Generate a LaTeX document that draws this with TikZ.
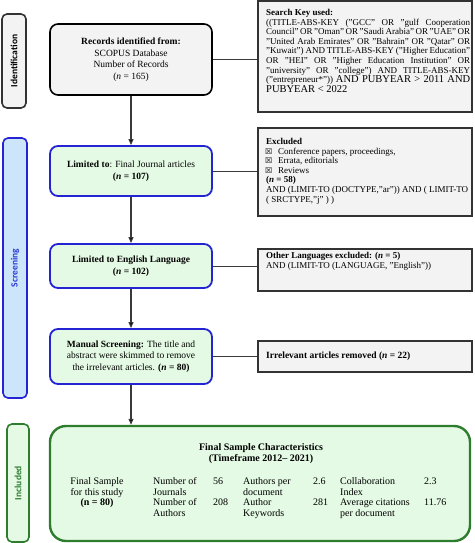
\documentclass[tikz,border=0pt]{standalone}
\usepackage{fontspec}
\setmainfont{Liberation Serif}
\setsansfont{Carlito}
\newfontfamily\symfont{DejaVu Sans}
\usetikzlibrary{arrows.meta,calc}
\definecolor{grayfill}{HTML}{F3F3F3}
\definecolor{grayline}{HTML}{333333}
\definecolor{bluefill}{HTML}{CCE5FA}
\definecolor{blueline}{HTML}{2424D4}
\definecolor{bluetext}{HTML}{2B3BD6}
\definecolor{greenfill}{HTML}{E4FAE4}
\definecolor{greenline}{HTML}{2E7D2E}
\definecolor{greentext}{HTML}{2E7D32}
\definecolor{conn}{HTML}{3A3A3A}
\begin{document}
\begin{tikzpicture}[x=1pt,y=-1pt,
  mainfont/.style={font=\fontsize{9.5}{11.5}\selectfont},
  sidebox/.style={draw, rounded corners=5pt, line width=1.6pt, inner sep=0pt,
    minimum width=#1},
  recbox/.style={draw=black, fill=grayfill, rounded corners=8pt, line width=1.6pt,
    minimum width=162pt, align=center, mainfont, inner sep=2pt},
  limbox/.style={draw=blueline, fill=greenfill, rounded corners=8pt, line width=1.8pt,
    minimum width=162pt, align=center, mainfont, inner sep=2pt},
  rbox/.style={draw=grayline, fill=grayfill, line width=1.5pt, minimum width=214pt,
    inner sep=0pt},
  rtext/.style={anchor=north west, inner sep=0pt, font=\fontsize{9}{9.6}\selectfont, align=left},
  cell/.style={anchor=base west, inner sep=0pt, font=\fontsize{10}{10.5}\selectfont},
  ccell/.style={anchor=base, inner sep=0pt, font=\fontsize{10}{10.5}\selectfont},
  arr/.style={draw=conn, line width=1.1pt, -{Triangle[length=6pt,width=5pt,fill=black]}},
  link/.style={draw=conn, line width=0.8pt},
  chk/.style={}
]
\useasboundingbox (0,0) rectangle (474,543);

% side labels
\node[sidebox=24pt, draw=grayline, fill=grayfill, minimum height=94pt] (ident) at (14,61) {};
\node[rotate=90, font=\sffamily\bfseries\fontsize{9.5}{10}\selectfont] (identt) at (ident.center) {Identification};
\node[sidebox=24pt, draw=blueline, fill=bluefill, minimum height=260pt] (screen) at (15,268) {};
\node[rotate=90, font=\sffamily\bfseries\fontsize{9.5}{10}\selectfont, text=bluetext] (screent) at (15,268) {Screening};
\node[sidebox=22pt, draw=greenline, fill=greenfill, minimum height=118pt] (incl) at (18,483) {};
\node[rotate=90, font=\sffamily\bfseries\fontsize{9.5}{10}\selectfont, text=greentext] (inclt) at (18,483) {Included};

% main column
\node[recbox, minimum height=71pt] (rec) at (131,59.5)
  {\textbf{Records identified from:}\\SCOPUS Database\\Number of Records\\(\textit{n} = 165)};
\node[limbox, minimum height=50pt] (lim1) at (131,171)
  {\textbf{Limited to}: Final Journal articles\\\textbf{(\textit{n} = 107)}};
\node[limbox, minimum height=44pt] (lim2) at (131,266)
  {\textbf{Limited to English Language}\\\textbf{(\textit{n} = 102)}};
\node[limbox, minimum height=55pt] (man) at (131,356.5)
  {\textbf{Manual Screening:} The title and\\abstract were skimmed to remove\\the irrelevant articles. \textbf{(\textit{n} = 80)}};
\node[draw=greenline, fill=greenfill, rounded corners=16pt, line width=2.4pt,
  minimum width=420pt, minimum height=115pt, inner sep=0pt] (fin) at (260,483.5) {};

% right column boxes
\node[rbox, minimum height=111pt] (search) at (365,56.5) {};
\node[rtext, text width=204pt, align=justify] (searcht) at (266,9)
  {\textbf{Search Key used:}\\
  ((TITLE-ABS-KEY ("GCC" OR "gulf Cooperation\linebreak
  Council" OR "Oman" OR "Saudi Arabia" OR "UAE" OR\linebreak
  "United Arab Emirates" OR "Bahrain" OR "Qatar" OR\linebreak
  "Kuwait") AND TITLE-ABS-KEY ("Higher Education"\linebreak
  OR "HEI" OR "Higher Education Institution" OR\linebreak
  "university" OR "college") AND TITLE-ABS-KEY\linebreak
  ("entrepreneur*")) {\fontsize{10.5}{9.6}\selectfont AND PUBYEAR > 2011 AND}\linebreak
  {\fontsize{10.5}{9.6}\selectfont PUBYEAR < 2022}};

\node[rbox, minimum height=88pt] (excl) at (365,172) {};
\node[rtext] (exclt) at (266,138)
  {\textbf{Excluded}\\
  \makebox[12pt][l]{\hspace{-1pt}{\symfont\fontsize{8}{8}\selectfont ☒}}Conference papers, proceedings,\\
  \makebox[12pt][l]{\hspace{-1pt}{\symfont\fontsize{8}{8}\selectfont ☒}}Errata, editorials\\
  \makebox[12pt][l]{\hspace{-1pt}{\symfont\fontsize{8}{8}\selectfont ☒}}Reviews\\
  \textbf{(\textit{n} = 58)}\\
  AND (LIMIT-TO (DOCTYPE,"ar")) AND ( LIMIT-TO\\
  ( SRCTYPE,"j" ) )};

\node[rbox, minimum height=42pt] (oth) at (365,270) {};
\node[rtext] (otht) at (266,252)
  {\textbf{Other Languages excluded: (\textit{n} = 5)}\\
  AND (LIMIT-TO (LANGUAGE, "English"))};

\node[rbox, minimum height=31pt] (irr) at (365,356.5) {};
\node[anchor=west, inner sep=0pt, font=\fontsize{9.5}{9.6}\selectfont] (irrt) at (266,356)
  {\textbf{Irrelevant articles removed (\textit{n} = 22)}};

% connectors
\draw[arr] (rec.south) -- (lim1.north);
\draw[arr] (lim1.south) -- (lim2.north);
\draw[arr] (lim2.south) -- (man.north);
\draw[arr] (man.south) -- (man.south |- fin.north);
\draw[link] (rec.east) -- (rec.east -| search.west);
\draw[link] (lim1.east) -- (lim1.east -| excl.west);
\draw[link] (lim2.east) -- (lim2.east -| oth.west);
\draw[link] (man.east) -- (man.east -| irr.west);

% final box contents
\node[ccell, font=\bfseries\fontsize{10}{10.5}\selectfont] (t1) at (261,450.5) {Final Sample Characteristics};
\node[ccell, font=\bfseries\fontsize{10}{10.5}\selectfont] (t2) at (261,461.5) {(Timeframe 2012-- 2021)};

\node[ccell] (a1) at (97,484.5) {Final Sample};
\node[ccell] (a2) at (97,495) {for this study};
\node[ccell] (a3) at (97,505.5) {\textbf{(n = 80)}};

\node[cell] (b1) at (153,484.5) {Number of};
\node[cell] (b2) at (153,495) {Journals};
\node[cell] (b3) at (153,505.5) {Number of};
\node[cell] (b4) at (153,516) {Authors};
\node[cell] (c1) at (213,484.5) {56};
\node[cell] (c3) at (213,505.5) {208};

\node[cell] (d1) at (243,484.5) {Authors per};
\node[cell] (d2) at (243,495) {document};
\node[cell] (d3) at (243,505.5) {Author};
\node[cell] (d4) at (243,516) {Keywords};
\node[cell] (e1) at (313,484.5) {2.6};
\node[cell] (e3) at (313,505.5) {281};

\node[cell] (f1) at (340,484.5) {Collaboration};
\node[cell] (f2) at (340,495) {Index};
\node[cell] (f3) at (340,505.5) {Average citations};
\node[cell] (f4) at (340,516) {per document};
\node[cell] (g1) at (424,484.5) {2.3};
\node[cell] (g3) at (424,505.5) {11.76};
\end{tikzpicture}
\end{document}
